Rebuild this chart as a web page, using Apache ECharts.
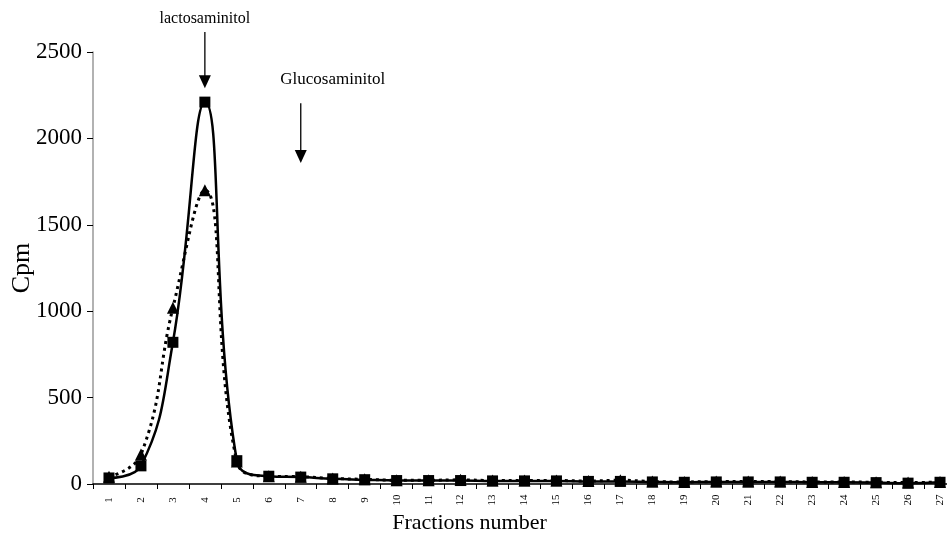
<!DOCTYPE html>
<html>
<head>
<meta charset="utf-8">
<script src="https://cdn.jsdelivr.net/npm/echarts@6/dist/echarts.min.js"></script>
<style>html,body{margin:0;padding:0;background:#fff}#c{width:947px;height:538px}</style>
</head>
<body>
<div id="c"></div>
<script>
const fractions = ['1','2','3','4','5','6','7','8','9','10','11','12','13','14','15','16','17','18','19','20','21','22','23','24','25','26','27'];
const squareSeries = [35,105,820,2210,135,45,40,30,25,20,20,20,18,18,18,15,15,12,10,12,12,12,10,10,8,5,10];
const triangleSeries = [42,170,1020,1700,130,45,42,32,27,22,22,24,20,20,20,17,22,14,12,14,14,14,12,12,10,8,12];
const yTicks = {min:0, max:2500, interval:500};
const annotations = [
  {text:'lactosaminitol', textX:3, textY:2690, arrowX:3, arrowFrom:2616, arrowTo:2290},
  {text:'Glucosaminitol', textX:7, textY:2338, arrowX:6.19, arrowFrom:2204, arrowTo:1857}
];

const FONT = '"Liberation Serif","Times New Roman",serif';
const chart = echarts.init(document.getElementById('c'), null, {renderer:'canvas'});
chart.setOption({
  animation:false,
  backgroundColor:'#fff',
  grid:{left:93, right:-9, top:52, bottom:54, containLabel:false, outerBoundsMode:'none'},
  xAxis:{
    type:'category', data:fractions, boundaryGap:true,
    name:'Fractions number', nameLocation:'middle', nameGap:28, nameMoveOverlap:false,
    nameTextStyle:{fontFamily:FONT, fontSize:22, color:'#000', padding:[0,110,0,0]},
    axisLine:{lineStyle:{color:'#000', width:1.5}},
    axisTick:{show:true, alignWithLabel:false, length:5, lineStyle:{color:'#000'}},
    axisLabel:{rotate:90, align:'center', verticalAlign:'middle', margin:16, fontFamily:FONT, fontSize:11, color:'#000', interval:0},
    splitLine:{show:false}
  },
  yAxis:{
    type:'value', min:yTicks.min, max:yTicks.max, interval:yTicks.interval,
    name:'Cpm', nameLocation:'middle', nameRotate:90, nameGap:58, nameMoveOverlap:false,
    nameTextStyle:{fontFamily:FONT, fontSize:26, color:'#000'},
    axisLine:{show:true, lineStyle:{color:'#999', width:1.5}},
    axisTick:{show:true, length:6, lineStyle:{color:'#000'}},
    axisLabel:{margin:11, fontFamily:FONT, fontSize:23, color:'#000', formatter:v => String(v)},
    splitLine:{show:false}
  },
  series:[
    {type:'line', data:triangleSeries, smooth:0.45, symbol:'triangle', symbolSize:12,
     itemStyle:{color:'#000'}, lineStyle:{color:'#000', width:3, type:[3,4]}},
    {type:'line', data:squareSeries, smooth:0.45, symbol:'rect', symbolSize:11,
     itemStyle:{color:'#000'}, lineStyle:{color:'#000', width:2.5}}
  ]
});

const g = [];
annotations.forEach((a, i) => {
  const t = chart.convertToPixel({gridIndex:0}, [a.textX, a.textY]);
  const p1 = chart.convertToPixel({gridIndex:0}, [a.arrowX, a.arrowFrom]);
  const p2 = chart.convertToPixel({gridIndex:0}, [a.arrowX, a.arrowTo]);
  const fs = i === 0 ? 16 : 17;
  g.push({type:'text', x:t[0], y:t[1], style:{text:a.text, font:fs+'px '+FONT, fill:'#000', align:'center', verticalAlign:'middle'}});
  g.push({type:'line', shape:{x1:p1[0], y1:p1[1], x2:p2[0], y2:p2[1]-12}, style:{stroke:'#000', lineWidth:1.3}});
  g.push({type:'polygon', shape:{points:[[p2[0]-6,p2[1]-13],[p2[0]+6,p2[1]-13],[p2[0],p2[1]]]}, style:{fill:'#000'}});
});
chart.setOption({graphic:g});
</script>
</body>
</html>
